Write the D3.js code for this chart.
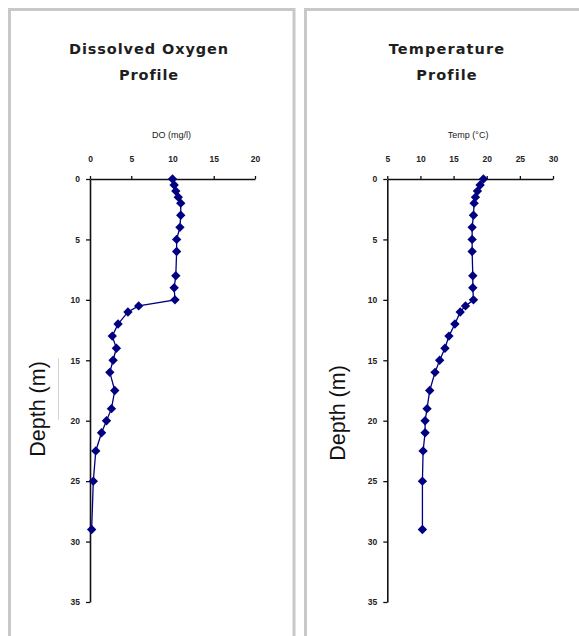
<!DOCTYPE html>
<html><head><meta charset="utf-8">
<script src="https://cdn.jsdelivr.net/npm/d3@7"></script>
<style>html,body{margin:0;padding:0;background:#fff;}svg{display:block;}</style>
</head><body>
<script>
const depths = [0,0.5,1,1.5,2,3,4,5,6,8,9,10,10.5,11,12,13,14,15,16,17.5,19,20,21,22.5,25,29];
const doValues = [10.0,10.2,10.4,10.7,11.0,11.0,10.9,10.5,10.5,10.4,10.2,10.3,5.9,4.6,3.4,2.7,3.2,2.8,2.4,3.0,2.6,2.0,1.4,0.7,0.4,0.2];
const tempValues = [19.5,19.0,18.6,18.3,18.1,18.0,17.8,17.8,17.8,17.9,17.9,18.0,16.8,16.0,15.2,14.3,13.7,12.9,12.2,11.4,11.0,10.7,10.7,10.4,10.3,10.3];
const doTicks = [0,5,10,15,20];
const tempTicks = [5,10,15,20,25,30];
const depthTicks = [0,5,10,15,20,25,30,35];

const W = 579, H = 636;
const svg = d3.select("body").append("svg").attr("width", W).attr("height", H);

function panel(opts) {
  const g = svg.append("g");
  g.append("rect").attr("x", opts.px).attr("y", 9.5).attr("width", opts.pw).attr("height", 700)
    .attr("fill", "#fff").attr("stroke", "#c8c8c8").attr("stroke-width", 3);

  const titleG = g.append("text").attr("text-anchor", "middle")
    .attr("font-family", "DejaVu Sans").attr("font-weight", "bold").attr("font-size", 14.5)
    .attr("letter-spacing", opts.ls).attr("fill", "#1e1e1e");
  titleG.append("tspan").attr("x", opts.tx).attr("y", 54).text(opts.title[0]);
  titleG.append("tspan").attr("x", opts.tx).attr("y", 79.5).text(opts.title[1]);

  const x = d3.scaleLinear().domain(opts.xDomain).range(opts.xRange);
  const y = d3.scaleLinear().domain([0, 35]).range([179, 602]);

  g.append("text").attr("x", (opts.xRange[0] + opts.xRange[1]) / 2 + opts.axOff).attr("y", 138)
    .attr("text-anchor", "middle").attr("font-family", "Liberation Sans").attr("font-size", 9)
    .attr("fill", "#222").text(opts.xLabel);

  const xa = g.append("g").attr("transform", "translate(0,179)")
    .call(d3.axisTop(x).tickValues(opts.xTicks).tickSize(3).tickSizeOuter(0).tickPadding(14).tickFormat(d3.format("d")));
  const ya = g.append("g").attr("transform", `translate(${opts.xRange[0]},0)`)
    .call(d3.axisLeft(y).tickValues(depthTicks).tickSize(4).tickSizeOuter(0).tickPadding(6).tickFormat(d3.format("d")));
  [xa, ya].forEach(a => {
    a.select(".domain").attr("stroke", "#111").attr("stroke-width", 1.6);
    a.selectAll(".tick line").attr("stroke", "#111").attr("stroke-width", 1.3);
    a.selectAll(".tick text").attr("font-family", "Liberation Sans").attr("font-weight", "bold")
      .attr("font-size", 8.5).attr("fill", "#222");
  });

  const data = depths.map((d, i) => ({ d, v: opts.values[i] }));
  g.append("path").datum(data)
    .attr("d", d3.line().x(p => x(p.v)).y(p => y(p.d)))
    .attr("fill", "none").attr("stroke", "#000080").attr("stroke-width", 1.3);
  g.selectAll(".pt").data(data).enter().append("path")
    .attr("d", d3.symbol(d3.symbolSquare, 44)())
    .attr("transform", p => `translate(${x(p.v)},${y(p.d)}) rotate(45)`)
    .attr("fill", "#000080");

  g.append("text").attr("transform", `translate(${opts.dlx},${opts.dly}) rotate(-90)`)
    .attr("text-anchor", "middle").attr("dominant-baseline", "central")
    .attr("font-family", "Liberation Sans").attr("font-size", 21.5).attr("fill", "#111")
    .text("Depth (m)");
}

panel({ px: 9.5, pw: 284.5, tx: 149, ls: 0.9, title: ["Dissolved Oxygen", "Profile"],
  xDomain: [0, 20], xRange: [90, 255], xTicks: doTicks, xLabel: "DO (mg/l)", axOff: -1,
  values: doValues, dlx: 38, dly: 409 });
panel({ px: 305.5, pw: 300, tx: 447, ls: 1.1, title: ["Temperature", "Profile"],
  xDomain: [5, 30], xRange: [387.3, 553], xTicks: tempTicks, xLabel: "Temp (°C)", axOff: -2,
  values: tempValues, dlx: 338, dly: 413 });

svg.append("line").attr("x1", 58.5).attr("x2", 58.5).attr("y1", 358).attr("y2", 420)
  .attr("stroke", "#d4d4d4").attr("stroke-width", 1);
</script>
</body></html>
